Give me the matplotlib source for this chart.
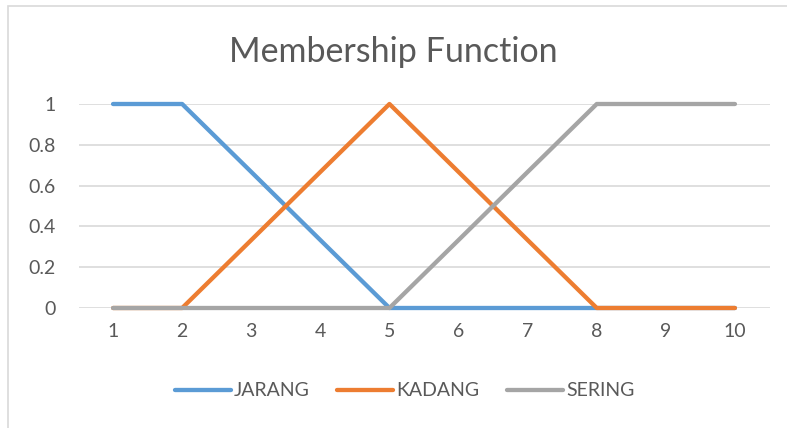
import matplotlib.pyplot as plt
from matplotlib.patches import Rectangle

# nilai keanggotaan tiap kategori
x_labels = ['1', '2', '3', '4', '5', '6', '7', '8', '9', '10']
jarang = [1, 1, 0.667, 0.333, 0, 0, 0, 0, 0, 0]
kadang = [0, 0, 0.333, 0.667, 1, 0.667, 0.333, 0, 0, 0]
sering = [0, 0, 0, 0, 0, 0.333, 0.667, 1, 1, 1]

plt.rcParams['font.family'] = ['Lato', 'DejaVu Sans']

fig = plt.figure(figsize=(7.87, 4.28), dpi=100)
ax = fig.add_axes([78.5 / 787, 1 - 308 / 428, 691 / 787, 204 / 428])

# bingkai chart ala Excel
fig.patches.append(Rectangle((8 / 787, -0.1), 1.2, 1 - 6 / 428 + 0.1, transform=fig.transFigure,
                             fill=False, edgecolor='#d9d9d9', linewidth=1.2))

xs = range(1, len(x_labels) + 1)
ax.plot(xs, jarang, color='#5b9bd5', linewidth=3.1, solid_capstyle='round', label='JARANG', zorder=3)
ax.plot(xs, kadang, color='#ed7d31', linewidth=3.1, solid_capstyle='round', label='KADANG', zorder=3)
ax.plot(xs, sering, color='#a5a5a5', linewidth=3.1, solid_capstyle='round', label='SERING', zorder=3)

ax.set_xlim(0.5, 10.5)
ax.set_ylim(0, 1)
ax.set_yticks([0, 0.2, 0.4, 0.6, 0.8, 1])
ax.set_yticklabels(['0', '0.2', '0.4', '0.6', '0.8', '1'])
ax.set_xticks(list(xs))
ax.set_xticklabels(x_labels)
ax.grid(axis='y', color='#d9d9d9', linewidth=1.2, zorder=0)
for s in ax.spines.values():
    s.set_visible(False)
ax.tick_params(length=0, labelsize=14, labelcolor='#595959')
ax.tick_params(axis='x', pad=11)
ax.tick_params(axis='y', pad=16.5)
for line in ax.lines:
    line.set_clip_on(False)

fig.text(0.5, 1 - 52 / 428, 'Membership Function', ha='center', va='center',
         fontsize=24.5, color='#595959')

fig.legend(loc='center', bbox_to_anchor=(0.514, 1 - 391 / 428), ncol=3, frameon=False,
           fontsize=14, labelcolor='#595959', handlelength=2.9, handletextpad=0.15,
           columnspacing=1.4)

fig.savefig('out.png', dpi=100)
